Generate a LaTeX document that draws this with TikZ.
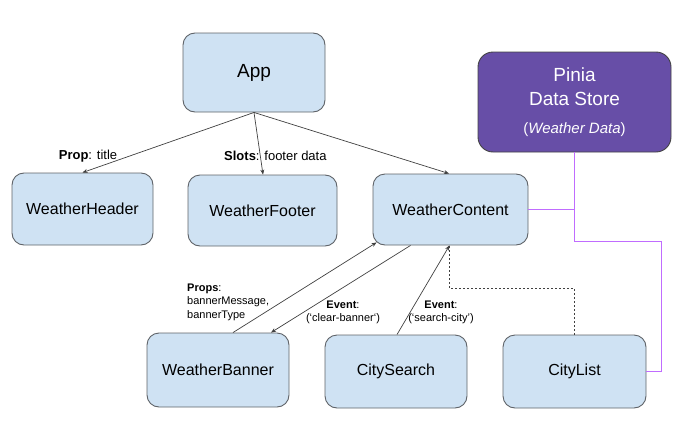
\documentclass[tikz,border=0pt]{standalone}
\usepackage{fontspec}
\setmainfont{Liberation Sans}
\usetikzlibrary{calc,arrows.meta}
\definecolor{boxfill}{HTML}{CFE2F3}
\definecolor{boxline}{HTML}{5F6368}
\definecolor{piniafill}{HTML}{674EA7}
\definecolor{pinialine}{HTML}{434343}
\definecolor{storeline}{HTML}{C06CFF}
\definecolor{conn}{HTML}{404040}
\tikzset{
  comp/.style={draw=boxline, fill=boxfill, line width=0.9pt, rounded corners=12pt,
    inner sep=0pt, font=\fontsize{16}{19}\selectfont},
  store/.style={draw=pinialine, fill=piniafill, line width=0.9pt, rounded corners=15pt,
    inner sep=0pt, text=white, align=center, font=\fontsize{19}{24}\selectfont},
  link/.style={draw=conn, line width=0.7pt, -{Stealth[length=5pt,width=4pt]}},
  dlink/.style={draw=conn, line width=0.7pt, dash pattern=on 2pt off 2pt},
  slink/.style={draw=storeline, line width=1.1pt},
  biglbl/.style={font=\fontsize{13}{15}\selectfont, inner sep=0pt},
  smalllbl/.style={font=\fontsize{11}{13.5}\selectfont, inner sep=0pt}
}
\begin{document}
\begin{tikzpicture}[x=1pt,y=-1pt]
\useasboundingbox (0,0) rectangle (688,431);
% nodes
\node[comp, minimum width=142pt, minimum height=79pt, font=\fontsize{19}{22}\selectfont] (App) at (254,72.5) {App};
\node[store, minimum width=193pt, minimum height=100pt] (P) at (574.5,102)
  {Pinia\\Data Store\\[4pt]{\fontsize{15}{18}\selectfont(\textit{Weather Data})}};
\node[comp, minimum width=141pt, minimum height=72pt] (WH) at (82.5,209) {WeatherHeader};
\node[comp, minimum width=149pt, minimum height=71pt] (WF) at (262.5,210.5) {WeatherFooter};
\node[comp, minimum width=155pt, minimum height=71pt] (WC) at (450.5,209.5) {WeatherContent};
\node[comp, minimum width=142pt, minimum height=74pt] (WB) at (218,370) {WeatherBanner};
\node[comp, minimum width=142pt, minimum height=73pt] (CS) at (396,371.5) {CitySearch};
\node[comp, minimum width=143pt, minimum height=73pt] (CL) at (574.5,371.5) {CityList};
% store links
\coordinate (J1) at (P.south |- WC.east);
\draw[slink] (P.south) -- (J1) -- ($(J1)+(0,32)$) -| ($(CL.east)+(15,0)$) -- (CL.east);
\draw[slink] (WC.east) -- (J1);
% top links
\draw[link] (App.south) -- (WH.north);
\draw[link] (App.south) -- ($(WF.north)+(0.5,0)$);
\draw[link] (App.south) -- ($(WC.north)+(-1.5,0)$);
% bottom links
\draw[link] ($(WB.north)+(15,0)$) -- ($(WC.south west)+(4,-3)$);
\draw[link] ($(WC.south)+(-40,0)$) -- ($(WB.north)+(53,0)$);
\draw[link] ($(CS.north)+(1,0)$) -- ($(WC.south)+(-1,0)$);
\draw[dlink] (CL.north) -- ++(0,-46) -| ($(WC.south)+(-1,0)$);
% labels
\node[biglbl] (l1) at (88,156) {\textbf{Prop}: title};
\node[biglbl, anchor=west] (l2) at (224,156) {\textbf{Slots}: footer data};
\node[smalllbl, anchor=west, align=left] (l3) at (187,302) {\textbf{Props}:\\bannerMessage,\\bannerType};
\node[smalllbl, align=center] (l4) at (343,312.5) {\textbf{Event}:\\(‘clear-banner\symbol{96})};
\node[smalllbl, align=center] (l5) at (441,312.5) {\textbf{Event}:\\(‘search-city’)};
\end{tikzpicture}
\end{document}
